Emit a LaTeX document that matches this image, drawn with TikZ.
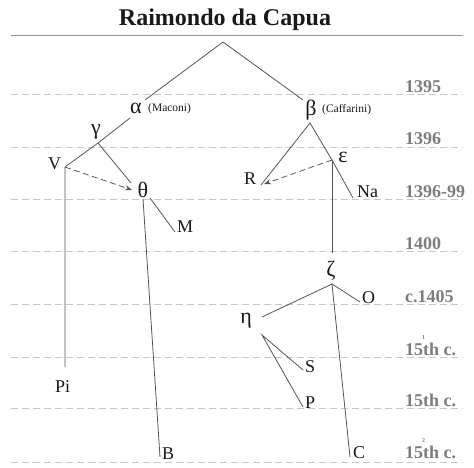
\documentclass[tikz,border=0pt]{standalone}
\usepackage{fontspec}
\setmainfont{Liberation Serif}
\usetikzlibrary{arrows.meta}
\definecolor{treeline}{RGB}{85,85,85}
\definecolor{gridline}{RGB}{200,200,200}
\definecolor{yeargray}{RGB}{125,125,125}
\definecolor{inkc}{RGB}{25,25,25}
\tikzset{
  px/.style={x=1pt,y=-1pt},
  branch/.style={draw=treeline,line width=0.8pt},
  influence/.style={draw=treeline,line width=0.8pt,dash pattern=on 6pt off 3.5pt,-{Stealth[length=7pt,width=5pt]}},
  gridrule/.style={draw=gridline,line width=0.9pt,dash pattern=on 7pt off 4pt},
  yearlbl/.style={anchor=base west,inner sep=0pt,text=yeargray,font=\fontsize{18}{18}\selectfont\bfseries},
  ms/.style={anchor=base west,inner sep=0pt,text=inkc,font=\fontsize{18}{18}\selectfont},
  greek/.style={anchor=center,inner sep=0pt,text=inkc,font=\fontsize{22}{22}\selectfont},
  note/.style={anchor=base west,inner sep=0pt,text=inkc,font=\fontsize{11.5}{11.5}\selectfont},
  tinysup/.style={anchor=base,inner sep=0pt,text=yeargray,font=\fontsize{6}{6}\selectfont\bfseries},
}
\begin{document}
\begin{tikzpicture}[px]
\useasboundingbox (0,0) rectangle (474,468);
% title
\node[anchor=base,inner sep=0pt,text=inkc,font=\fontsize{24}{24}\selectfont\bfseries] (title) at (225,26) {Raimondo da Capua};
\coordinate (ruleL) at (11,36);
\coordinate (ruleR) at (463,36);
\draw[draw=gray!85,line width=1pt] (ruleL) -- (ruleR);
% grid lines
\foreach \n/\y in {g1/94, g2/147, g3/199, g4/251, g5/304, g6/357, g7/408, g8/462}{
  \coordinate (\n L) at (11,\y);
  \coordinate (\n R) at (463,\y);
  \draw[gridrule] (\n L) -- (\n R);
}
\node[yearlbl] (y1) at (405,92.5) {1395};
\node[yearlbl] (y2) at (405,145) {1396};
\node[yearlbl] (y3) at (405,197.5) {1396-99};
\node[yearlbl] (y4) at (405,249.5) {1400};
\node[yearlbl] (y5) at (405,302.5) {c.1405};
\node[yearlbl] (y6) at (405,355.5) {15th c.};
\node[yearlbl] (y7) at (405,406.5) {15th c.};
\node[yearlbl] (y8) at (405,458) {15th c.};
\node[tinysup] (s6) at (423.5,339) {1};
\node[tinysup] (s8) at (423.5,442) {2};
% junction coordinates
\coordinate (top) at (223,42);
\coordinate (aEnd) at (145,100);
\coordinate (bEnd) at (303,100);
\coordinate (aOut) at (130,118);
\coordinate (gJ) at (98,143);
\coordinate (vJ) at (65,167);
\coordinate (vEnd) at (65,367);
\coordinate (thIn) at (131,183);
\coordinate (thArr) at (132,190);
\coordinate (thOut) at (150,198);
\coordinate (thDown) at (143,199);
\coordinate (mEnd) at (175,232);
\coordinate (bLow) at (160,457);
\coordinate (betaOut) at (310,123);
\coordinate (rEnd) at (261,185);
\coordinate (rArr) at (264,184);
\coordinate (eJ) at (332,160);
\coordinate (naEnd) at (353,198);
\coordinate (zIn) at (332,253);
\coordinate (zOut) at (332,284);
\coordinate (oEnd) at (360,302);
\coordinate (hIn) at (262,317);
\coordinate (hOut) at (262,335);
\coordinate (sEnd) at (303,370);
\coordinate (pEnd) at (303,407);
\coordinate (cEnd) at (350,457);
% labels
\node[greek] (alpha) at (136,108) {α};
\node[note] (maconi) at (148,112) {(Maconi)};
\node[greek] (beta) at (311,110) {β};
\node[note] (caffarini) at (322,113) {(Caffarini)};
\node[greek] (gamma) at (96,132) {γ};
\node[ms] (V) at (48,170) {V};
\node[greek] (theta) at (143,190) {θ};
\node[ms] (M) at (177,232) {M};
\node[ms] (Pi) at (55,392) {Pi};
\node[ms] (B) at (162,459) {B};
\node[ms] (R) at (244,185) {R};
\node[greek] (eps) at (343,157) {ε};
\node[ms] (Na) at (357,197) {Na};
\node[greek] (zeta) at (331,271) {ζ};
\node[ms] (O) at (362,303) {O};
\node[greek] (eta) at (246,321) {η};
\node[ms] (S) at (305,372) {S};
\node[ms] (P) at (305,408) {P};
\node[ms] (C) at (353,458) {C};
% branches
\draw[branch] (aEnd) -- (top) -- (bEnd);
\draw[branch] (aOut) -- (gJ) -- (vJ) -- (vEnd);
\draw[branch] (gJ) -- (thIn);
\draw[branch] (thOut) -- (mEnd);
\draw[branch] (thDown) -- (bLow);
\draw[influence] (vJ) -- (thArr);
\draw[branch] (rEnd) -- (betaOut) -- (eJ) -- (naEnd);
\draw[branch] (eJ) -- (zIn);
\draw[influence] (eJ) -- (rArr);
\draw[branch] (oEnd) -- (zOut) -- (hIn);
\draw[branch] (zOut) -- (cEnd);
\draw[branch] (sEnd) -- (hOut) -- (pEnd);
\end{tikzpicture}
\end{document}
